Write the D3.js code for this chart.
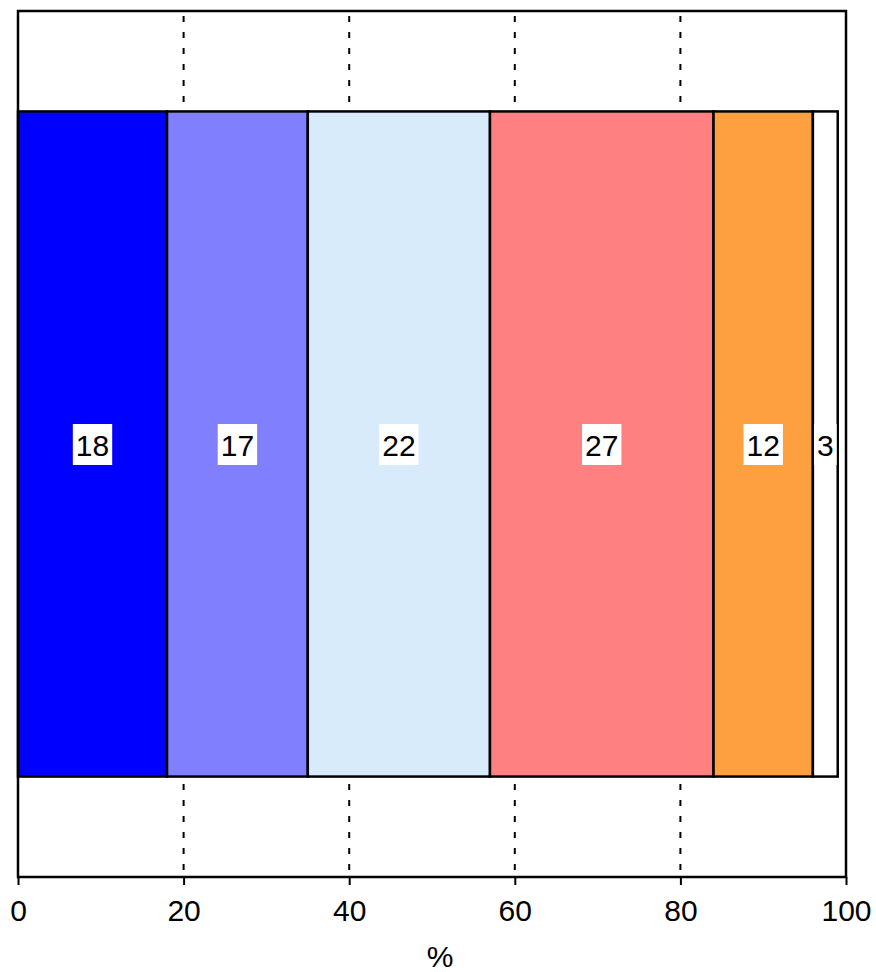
<!DOCTYPE html>
<html><head><meta charset="utf-8">
<script src="https://cdn.jsdelivr.net/npm/d3@7"></script>
<style>body{margin:0;background:#fff}text{font-family:"Liberation Sans",Arial,sans-serif}</style>
</head><body><svg id="c" width="876" height="972"></svg>
<script>
const categories = ["A","B","C","D","E","F"];
const values = [18,17,22,27,12,3];
const colors = ["#0000ff","#8080ff","#d8ebfb","#ff8080","#ffa040","#ffffff"];
const ticks = [0,20,40,60,80,100];
const grid = [20,40,60,80];

const svg = d3.select("#c");
const L=18,R=846,T=11,B=877;
const x = d3.scaleLinear().domain([0,100]).range([L,R]);
const y = d3.scaleBand().domain(["row"]).range([T,B]).paddingInner(0).paddingOuter(0.151);

svg.append("rect").attr("x",L).attr("y",T).attr("width",R-L).attr("height",B-T).attr("fill","#fff");
svg.selectAll(".g").data(grid).enter().append("line")
  .attr("x1",d=>x(d)).attr("x2",d=>x(d)).attr("y1",T).attr("y2",B)
  .attr("stroke","#000").attr("stroke-width",2).attr("stroke-dasharray","6,10").attr("stroke-dashoffset",11);

let cum=0;
const segs = values.map((v,i)=>{const s={v,i,start:cum,end:cum+v};cum+=v;return s;});
const by = y("row"), bh = y.bandwidth();
svg.selectAll(".bar").data(segs).enter().append("rect")
  .attr("x",d=>x(d.start)).attr("y",by).attr("width",d=>x(d.end)-x(d.start)).attr("height",bh)
  .attr("fill",d=>colors[d.i]).attr("stroke","#000").attr("stroke-width",2.5);

const lg = svg.selectAll(".lab").data(segs).enter().append("g")
  .attr("transform",d=>`translate(${x((d.start+d.end)/2)},${by+bh/2})`);
lg.append("text").text(d=>d.v).attr("text-anchor","middle").attr("y",11.5)
  .attr("font-size",30).attr("fill","#000").each(function(){
    const b=this.getBBox();
    d3.select(this.parentNode).insert("rect","text").attr("x",b.x-3).attr("y",-20).attr("width",b.width+6).attr("height",41).attr("fill","#fff");
  });

svg.append("rect").attr("x",L).attr("y",T).attr("width",R-L).attr("height",B-T).attr("fill","none").attr("stroke","#000").attr("stroke-width",2.5);

const ax = svg.append("g").attr("transform",`translate(0,${B})`).call(d3.axisBottom(x).tickValues(ticks).tickSize(8).tickPadding(15));
ax.select(".domain").remove();
ax.selectAll("line").attr("stroke","#000").attr("stroke-width",2);
ax.selectAll("text").attr("font-size",30).attr("fill","#000").style("font-family","Liberation Sans, Arial, sans-serif");
svg.append("text").attr("x",(L+R)/2 + 8).attr("y",967).attr("text-anchor","middle").attr("font-size",30).text("%");
</script></body></html>
